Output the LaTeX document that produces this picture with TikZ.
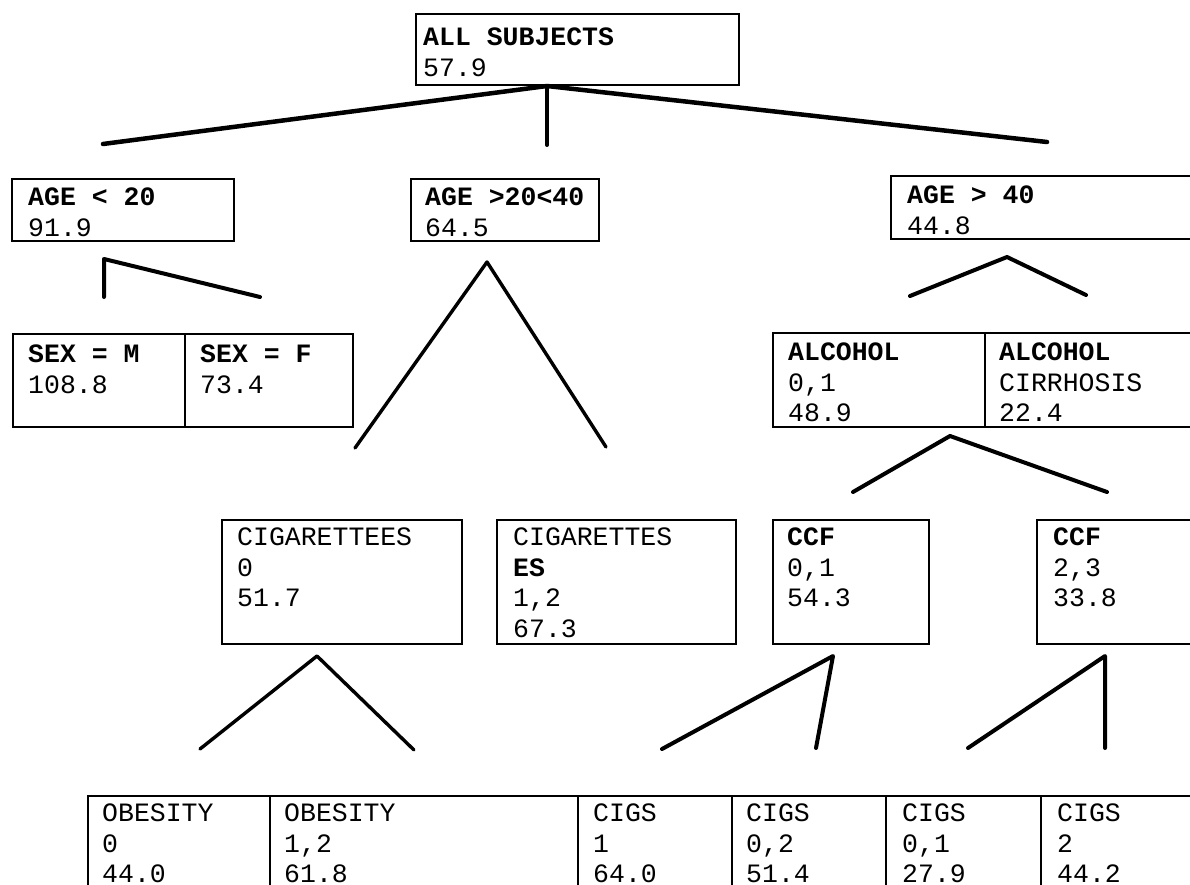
\documentclass[tikz,border=0pt]{standalone}
\usepackage{fontspec}
\setmonofont{Liberation Mono}
\begin{document}
\begin{tikzpicture}[x=1pt,y=-1pt,
  cell/.style={draw=black, line width=1.6pt, anchor=north west, inner sep=0pt, fill=none},
  txt/.style={anchor=base west, align=left, inner sep=0pt,
    font=\ttfamily\fontsize{26.5}{30.5}\selectfont},
  branch/.style={line width=4pt, line cap=round, line join=round},
  branchthin/.style={line width=3.4pt, line cap=round, line join=round}]
\clip (0,0) rectangle (1190,885);
\fill[white] (0,0) rectangle (1190,885);

% ---- level 0  (text nodes are anchored at the baseline of their LAST line)
\node[cell, minimum width=323pt, minimum height=71pt] (all) at (415,13) {};
\node[txt] (allt) at (423,76.5) {\bfseries ALL SUBJECTS\\57.9};

% ---- level 1
\node[cell, minimum width=222pt, minimum height=62pt] (young) at (11,178) {};
\node[txt] (youngt) at (28,236.5) {\bfseries AGE < 20\\91.9};
\node[cell, minimum width=188pt, minimum height=62pt] (mid) at (410,178) {};
\node[txt] (midt) at (425,236.5) {\bfseries AGE >20<40\\64.5};
\node[cell, minimum width=320pt, minimum height=63pt] (old) at (890,175) {};
\node[txt] (oldt) at (907,234.5) {\bfseries AGE > 40\\44.8};

% ---- level 2
\node[cell, minimum width=172pt, minimum height=93pt] (sexm) at (12,333) {};
\node[txt] (sexmt) at (28,393) {\bfseries SEX = M\\108.8};
\node[cell, minimum width=168pt, minimum height=93pt] (sexf) at (184,333) {};
\node[txt] (sexft) at (200,393) {\bfseries SEX = F\\73.4};
\node[cell, minimum width=212pt, minimum height=94pt] (alc) at (772,332) {};
\node[txt] (alct) at (788,421.5) {\bfseries ALCOHOL\\0,1\\48.9};
\node[cell, minimum width=226pt, minimum height=94pt] (cir) at (984,332) {};
\node[txt] (cirt) at (999,421.5) {\bfseries ALCOHOL\\CIRRHOSIS\\22.4};

% ---- level 3
\node[cell, minimum width=240pt, minimum height=124pt] (cig0) at (221,519) {};
\node[txt] (cig0t) at (237,606.5) {CIGARETTEES\\0\\51.7};
\node[cell, minimum width=239pt, minimum height=124pt] (cig12) at (496,519) {};
\node[txt] (cig12t) at (513,637) {CIGARETTES\\{\bfseries ES}\\1,2\\67.3};
\node[cell, minimum width=156pt, minimum height=124pt] (ccfa) at (772,519) {};
\node[txt] (ccfat) at (787,606.5) {\bfseries CCF\\0,1\\54.3};
\node[cell, minimum width=174pt, minimum height=124pt] (ccfb) at (1036,519) {};
\node[txt] (ccfbt) at (1053,606.5) {\bfseries CCF\\2,3\\33.8};

% ---- level 4
\node[cell, minimum width=182pt, minimum height=110pt] (ob0) at (87,795) {};
\node[txt] (ob0t) at (102,882.5) {OBESITY\\0\\44.0};
\node[cell, minimum width=308pt, minimum height=110pt] (ob12) at (269,795) {};
\node[txt] (ob12t) at (284,882.5) {OBESITY\\1,2\\61.8};
\node[cell, minimum width=154pt, minimum height=110pt] (cg1) at (577,795) {};
\node[txt] (cg1t) at (593,882.5) {CIGS\\1\\64.0};
\node[cell, minimum width=154pt, minimum height=110pt] (cg02) at (731,795) {};
\node[txt] (cg02t) at (746,882.5) {CIGS\\0,2\\51.4};
\node[cell, minimum width=155pt, minimum height=110pt] (cg01) at (885,795) {};
\node[txt] (cg01t) at (902,882.5) {CIGS\\0,1\\27.9};
\node[cell, minimum width=170pt, minimum height=110pt] (cg2) at (1040,795) {};
\node[txt] (cg2t) at (1057,882.5) {CIGS\\2\\44.2};

% ---- branch points
\coordinate (t0) at (547,86);
\coordinate (tl) at (103,144);
\coordinate (tr) at (1047,142);
\coordinate (tb) at (547,145);

\coordinate (u1) at (104,297);
\coordinate (u2) at (104,259);
\coordinate (u3) at (260,297);

\coordinate (m0) at (487,262);
\coordinate (ml) at (355,448);
\coordinate (mr) at (606,447);

\coordinate (g0) at (1007,257);
\coordinate (gl) at (910,296);
\coordinate (gr) at (1086,295);

\coordinate (a0) at (950,436);
\coordinate (al) at (853,492);
\coordinate (ar) at (1107,492);

\coordinate (c0) at (317,656);
\coordinate (cl) at (200,749);
\coordinate (cr) at (414,750);

\coordinate (f0) at (833,656);
\coordinate (fl) at (662,749);
\coordinate (fr) at (816,748);

\coordinate (h0) at (1105,656);
\coordinate (hl) at (968,748);
\coordinate (hr) at (1105,748);

% ---- branches
\draw[branch, line width=4.5pt] (tl) -- (t0) -- (tr);
\draw[branch] (t0) -- (tb);
\draw[branch] (u1) -- (u2) -- (u3);
\draw[branchthin] (ml) -- (m0) -- (mr);
\draw[branch] (gl) -- (g0) -- (gr);
\draw[branch] (al) -- (a0) -- (ar);
\draw[branchthin] (cl) -- (c0) -- (cr);
\draw[branch] (fl) -- (f0) -- (fr);
\draw[branch] (hl) -- (h0) -- (hr);
\end{tikzpicture}
\end{document}
